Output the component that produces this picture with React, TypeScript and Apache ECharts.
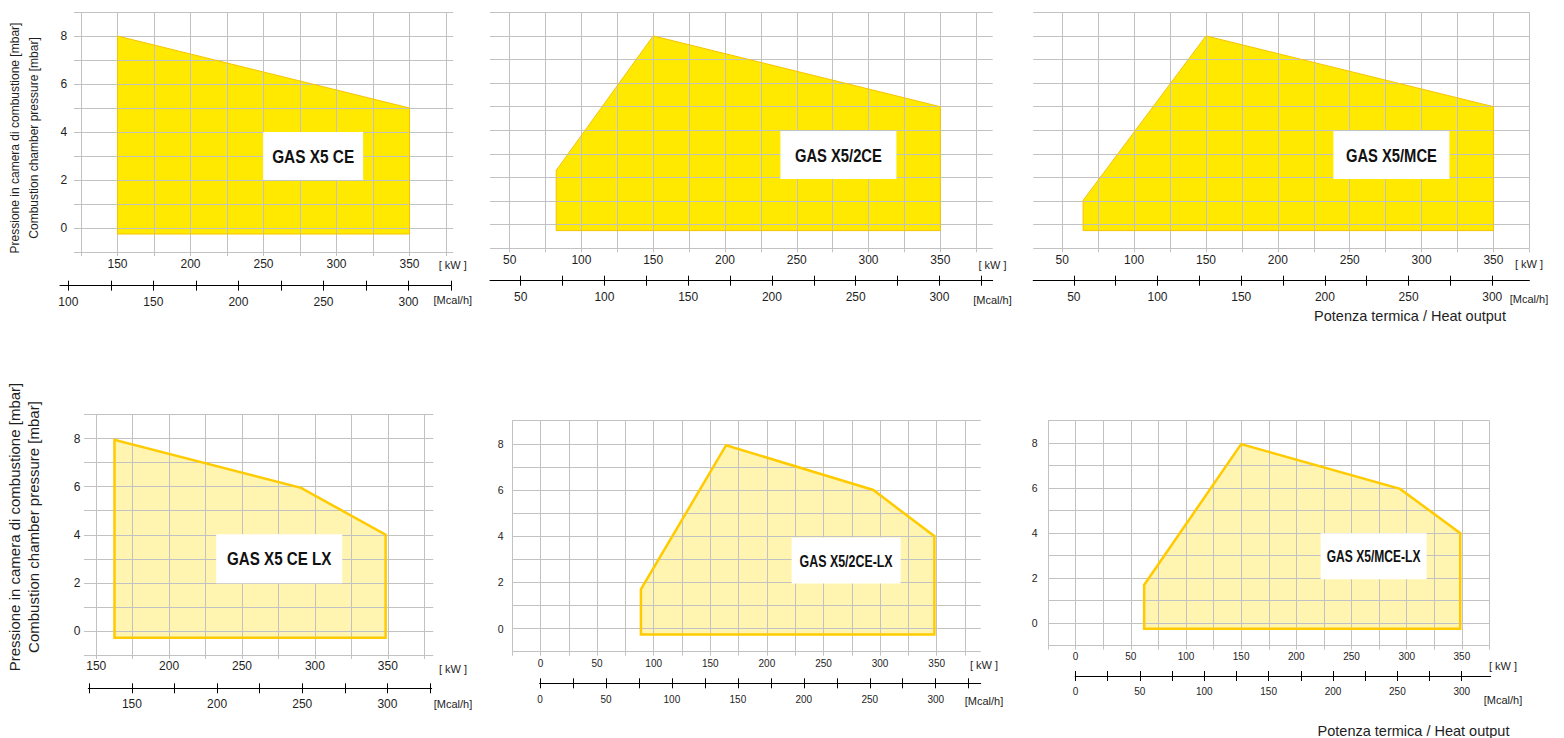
import React, { useEffect, useRef } from "react";
import * as echarts from "echarts";

// ---------- DATA ----------
const boxNames = ["GAS X5 CE", "GAS X5/2CE", "GAS X5/MCE", "GAS X5 CE LX", "GAS X5/2CE-LX", "GAS X5/MCE-LX"];

// working-field polygons [kW, mbar]
const areaX5CE = [[150, -0.25], [150, 8], [350, 5], [350, -0.25]];
const areaX52CE = [[82.4, -0.25], [82.4, 2.3], [150, 8], [350, 5], [350, -0.25]];
const areaX5MCE = [[64.5, -0.25], [64.5, 1.03], [150, 8], [350, 5], [350, -0.25]];
const areaX5CELX = [[162.5, -0.28], [162.5, 7.95], [290.5, 5.95], [348.5, 4], [348.5, -0.28]];
const areaX52CELX = [[88.7, -0.26], [88.7, 1.7], [164, 7.94], [294, 6], [348, 4], [348, -0.26]];
const areaX5MCELX = [[62.1, -0.25], [62.1, 1.7], [150, 7.96], [294, 5.97], [348.5, 4], [348.5, -0.25]];
const areas = [areaX5CE, areaX52CE, areaX5MCE, areaX5CELX, areaX52CELX, areaX5MCELX];

// centre of the model-name boxes [kW, mbar]
const boxAt = [[284, 3], [279, 2.95], [279, 2.95], [275.5, 3], [270, 2.95], [270, 2.98]];

// kW axes
const kwRange = [[120.2, 380], [36.3, 386.5], [29.8, 375], [141.6, 381.2], [-25, 388.9], [-25, 375]];
const kwTicksA = [125, 150, 175, 200, 225, 250, 275, 300, 325, 350, 375];
const kwTicksB = [50, 75, 100, 125, 150, 175, 200, 225, 250, 275, 300, 325, 350, 375];
const kwTicksC = [150, 175, 200, 225, 250, 275, 300, 325, 350, 375];
const kwTicksD = [-25, 0, 25, 50, 75, 100, 125, 150, 175, 200, 225, 250, 275, 300, 325, 350, 375];
const kwTicks = [kwTicksA, kwTicksB, kwTicksB, kwTicksC, kwTicksD, kwTicksD];
const kwLabelsA = [150, 200, 250, 300, 350];
const kwLabelsB = [50, 100, 150, 200, 250, 300, 350];
const kwLabelsD = [0, 50, 100, 150, 200, 250, 300, 350];
const kwLabels = [kwLabelsA, kwLabelsB, kwLabelsB, kwLabelsA, kwLabelsD, kwLabelsD];

// Mcal/h axes
const mcRange = [[95.1, 325.2], [31.7, 331.8], [25.7, 322.2], [124.4, 326], [-0.3, 334.1], [-0.3, 322.5]];
const mcTicksA = [100, 125, 150, 175, 200, 225, 250, 275, 300, 325];
const mcTicksB = [50, 75, 100, 125, 150, 175, 200, 225, 250, 275, 300, 325];
const mcTicksC = [50, 75, 100, 125, 150, 175, 200, 225, 250, 275, 300];
const mcTicksD = [125, 150, 175, 200, 225, 250, 275, 300, 325];
const mcTicksE = [0, 25, 50, 75, 100, 125, 150, 175, 200, 225, 250, 275, 300, 325];
const mcTicksF = [0, 25, 50, 75, 100, 125, 150, 175, 200, 225, 250, 275, 300];
const mcTicks = [mcTicksA, mcTicksB, mcTicksC, mcTicksD, mcTicksE, mcTicksF];
const mcLabelsA = [100, 150, 200, 250, 300];
const mcLabelsB = [50, 100, 150, 200, 250, 300];
const mcLabelsD = [150, 200, 250, 300];
const mcLabelsE = [0, 50, 100, 150, 200, 250, 300];
const mcLabels = [mcLabelsA, mcLabelsB, mcLabelsB, mcLabelsD, mcLabelsE, mcLabelsE];

// pressure axis
const pRange = [-1, 9];
const pLabels = [0, 2, 4, 6, 8];

const yTitle1 = "Pressione in camera di combustione [mbar]";
const yTitle2 = "Combustion chamber pressure [mbar]";
const xTitle = "Potenza termica / Heat output";
const kwUnit = "[ kW ]";
const mcUnit = "[Mcal/h]";

// ---------- LAYOUT ----------
const layout = [
  { l: 74, t: 12, w: 379.3, h: 240, ml: 60, mw: 391.4, my: 285.7, kf: 12, km: 6, mf: 12, mm: 10, yf: 12, ym: 6.7, showY: true, bf: 19, bs: 0.81, bw: 100, bh: 48, top: true },
  { l: 490, t: 12.3, w: 502.7, h: 236, ml: 490, mw: 502.7, my: 280.7, kf: 12, km: 6, mf: 12, mm: 10, yf: 12, ym: 6, showY: false, bf: 18, bs: 0.82, bw: 116, bh: 48, top: true },
  { l: 1033.2, t: 12.3, w: 496.2, h: 236, ml: 1033.2, mw: 496.2, my: 280.7, kf: 12, km: 6, mf: 12, mm: 10, yf: 12, ym: 6, showY: false, bf: 18, bs: 0.82, bw: 116, bh: 48, top: true },
  { l: 84, t: 414.5, w: 349.3, h: 240.5, ml: 88.3, mw: 343.4, my: 688.3, kf: 12, km: 5, mf: 12, mm: 10, yf: 12, ym: 3.5, showY: true, bf: 18.5, bs: 0.82, bw: 126, bh: 49, top: false },
  { l: 512.2, t: 420.7, w: 468.5, h: 231, ml: 539.6, mw: 441.1, my: 683.3, kf: 10, km: 6.5, mf: 10, mm: 11.5, yf: 10.5, ym: 8.7, showY: true, bf: 17, bs: 0.73, bw: 109, bh: 46, top: false },
  { l: 1048, t: 420.7, w: 441.5, h: 225, ml: 1075.1, mw: 415.6, my: 676, kf: 10, km: 6, mf: 10, mm: 10.5, yf: 10.5, ym: 10.5, showY: true, bf: 16.3, bs: 0.74, bw: 106, bh: 46, top: false },
];
const unitPos = [
  { kx: 452.8, ky: 265, mx: 452.8, my: 300 },
  { kx: 992.5, ky: 265, mx: 992.5, my: 300 },
  { kx: 1529, ky: 264, mx: 1529, my: 299 },
  { kx: 453, ky: 669.3, mx: 453, my: 704 },
  { kx: 984, ky: 665, mx: 984, my: 700.7 },
  { kx: 1503, ky: 665.7, mx: 1503, my: 700 },
];

const FONT = "'Liberation Sans', Arial, Helvetica, sans-serif";
const GRID = "#c2c2c2";
const TXT = "#1e1e1e";

function buildOption() {
  const grid: any[] = [];
  const xAxis: any[] = [];
  const yAxis: any[] = [];
  const series: any[] = [];
  const graphic: any[] = [];

  layout.forEach((L, i) => {
    const gMain = grid.length;
    grid.push({ left: L.l, top: L.t, width: L.w, height: L.h });
    const gM = grid.length;
    grid.push({ left: L.ml, top: L.my - 1, width: L.mw, height: 1 });

    const xi = xAxis.length;
    xAxis.push({
      type: "value", gridIndex: gMain, position: "bottom", min: kwRange[i][0], max: kwRange[i][1],
      minInterval: 25, maxInterval: 25, z: 3,
      axisLine: { show: false, onZero: false },
      axisTick: { show: true, length: 4, lineStyle: { color: GRID, width: 1 }, customValues: kwTicks[i] },
      splitLine: { show: true, lineStyle: { color: GRID, width: 1 } },
      axisLabel: {
        customValues: kwLabels[i], fontSize: L.kf, margin: L.km, color: TXT, fontFamily: FONT,
        formatter: (v: number) => (kwLabels[i].indexOf(v) >= 0 ? String(v) : ""),
      },
    });
    const yi = yAxis.length;
    yAxis.push({
      type: "value", gridIndex: gMain, min: pRange[0], max: pRange[1], interval: 1, z: 3,
      axisLine: { show: false, onZero: false },
      axisTick: { show: false },
      splitLine: { show: true, lineStyle: { color: GRID, width: 1 } },
      axisLabel: {
        show: L.showY, customValues: pLabels, fontSize: L.yf, margin: L.ym, color: TXT, fontFamily: FONT,
        formatter: (v: number) => (pLabels.indexOf(v) >= 0 ? String(v) : ""),
      },
    });
    // Mcal/h axis: two overlapping axes for crossing ticks
    xAxis.push({
      type: "value", gridIndex: gM, position: "bottom", min: mcRange[i][0], max: mcRange[i][1],
      minInterval: 25, maxInterval: 25,
      axisLine: { show: true, onZero: false, lineStyle: { color: "#000", width: 1 } },
      axisTick: { show: true, inside: false, length: 5, lineStyle: { color: "#000", width: 1 }, customValues: mcTicks[i] },
      splitLine: { show: false },
      axisLabel: {
        customValues: mcLabels[i], fontSize: L.mf, margin: L.mm, color: TXT, fontFamily: FONT,
        formatter: (v: number) => (mcLabels[i].indexOf(v) >= 0 ? String(v) : ""),
      },
    });
    xAxis.push({
      type: "value", gridIndex: gM, position: "bottom", min: mcRange[i][0], max: mcRange[i][1],
      minInterval: 25, maxInterval: 25,
      axisLine: { show: false, onZero: false },
      axisTick: { show: true, inside: true, length: 5, lineStyle: { color: "#000", width: 1 }, customValues: mcTicks[i] },
      splitLine: { show: false },
      axisLabel: { show: false },
    });
    yAxis.push({ type: "value", gridIndex: gM, show: false, min: 0, max: 1 });

    const poly = areas[i];
    const fill = L.top ? "#ffe900" : "#fff4b0";
    const stroke = L.top ? "#f7c300" : "#ffcb00";
    const lw = L.top ? 1 : 2.5;
    series.push({
      type: "custom", xAxisIndex: xi, yAxisIndex: yi, z: 1, silent: true, data: poly,
      renderItem: (params: any, api: any) => {
        if (params.dataIndex !== 0) return null;
        return { type: "polygon", shape: { points: poly.map((p) => api.coord(p)) }, style: { fill, stroke: "none" } };
      },
    });
    series.push({
      type: "custom", xAxisIndex: xi, yAxisIndex: yi, z: 4, silent: true, data: poly,
      renderItem: (params: any, api: any) => {
        if (params.dataIndex !== 0) return null;
        return { type: "polygon", shape: { points: poly.map((p) => api.coord(p)) }, style: { fill: "none", stroke, lineWidth: lw, lineJoin: "miter" } };
      },
    });
    // model-name box (white rectangle + condensed bold text)
    const name = boxNames[i];
    series.push({
      type: "custom", xAxisIndex: xi, yAxisIndex: yi, z: 10, silent: true, data: [boxAt[i]],
      renderItem: (params: any, api: any) => {
        const c = api.coord([api.value(0), api.value(1)]);
        return {
          type: "group",
          children: [
            { type: "rect", shape: { x: c[0] - L.bw / 2, y: c[1] - L.bh / 2, width: L.bw, height: L.bh }, style: { fill: "#ffffff" } },
            {
              type: "text", x: c[0], y: c[1] + 0.5, scaleX: L.bs,
              style: { text: name, font: `bold ${L.bf}px ${FONT}`, fill: "#111111", align: "center", verticalAlign: "middle", textAlign: "center", textVerticalAlign: "middle" },
            },
          ],
        };
      },
    });

    const U = unitPos[i];
    graphic.push({ type: "text", x: U.kx, y: U.ky, silent: true, style: { text: kwUnit, font: `11px ${FONT}`, fill: TXT, align: "center", verticalAlign: "middle", textAlign: "center", textVerticalAlign: "middle" } });
    graphic.push({ type: "text", x: U.mx, y: U.my, silent: true, style: { text: mcUnit, font: `11px ${FONT}`, fill: TXT, align: "center", verticalAlign: "middle", textAlign: "center", textVerticalAlign: "middle" } });
  });

  const rot = (x: number, y: number, text: string, size: number) => ({
    type: "text", x, y, rotation: Math.PI / 2, silent: true,
    style: { text, font: `${size}px ${FONT}`, fill: TXT, align: "center", verticalAlign: "middle", textAlign: "center", textVerticalAlign: "middle" },
  });
  graphic.push(rot(14.5, 138, yTitle1, 12));
  graphic.push(rot(33.5, 138, yTitle2, 12));
  graphic.push(rot(14, 527, yTitle1, 15));
  graphic.push(rot(33.7, 527, yTitle2, 15));
  const ht = (x: number, y: number) => ({
    type: "text", x, y, silent: true,
    style: { text: xTitle, font: `14.5px ${FONT}`, fill: TXT, align: "center", verticalAlign: "middle", textAlign: "center", textVerticalAlign: "middle" },
  });
  graphic.push(ht(1410, 316));
  graphic.push(ht(1413.5, 731));

  return { animation: false, backgroundColor: "#ffffff", grid, xAxis, yAxis, series, graphic };
}

export default function App() {
  const ref = useRef<HTMLDivElement>(null);
  useEffect(() => {
    document.body.style.margin = "0";
    if (!ref.current) return;
    const chart = echarts.init(ref.current, undefined, { renderer: "svg" });
    chart.setOption(buildOption() as any);
    return () => chart.dispose();
  }, []);
  return <div ref={ref} style={{ width: 1564, height: 738 }} />;
}
